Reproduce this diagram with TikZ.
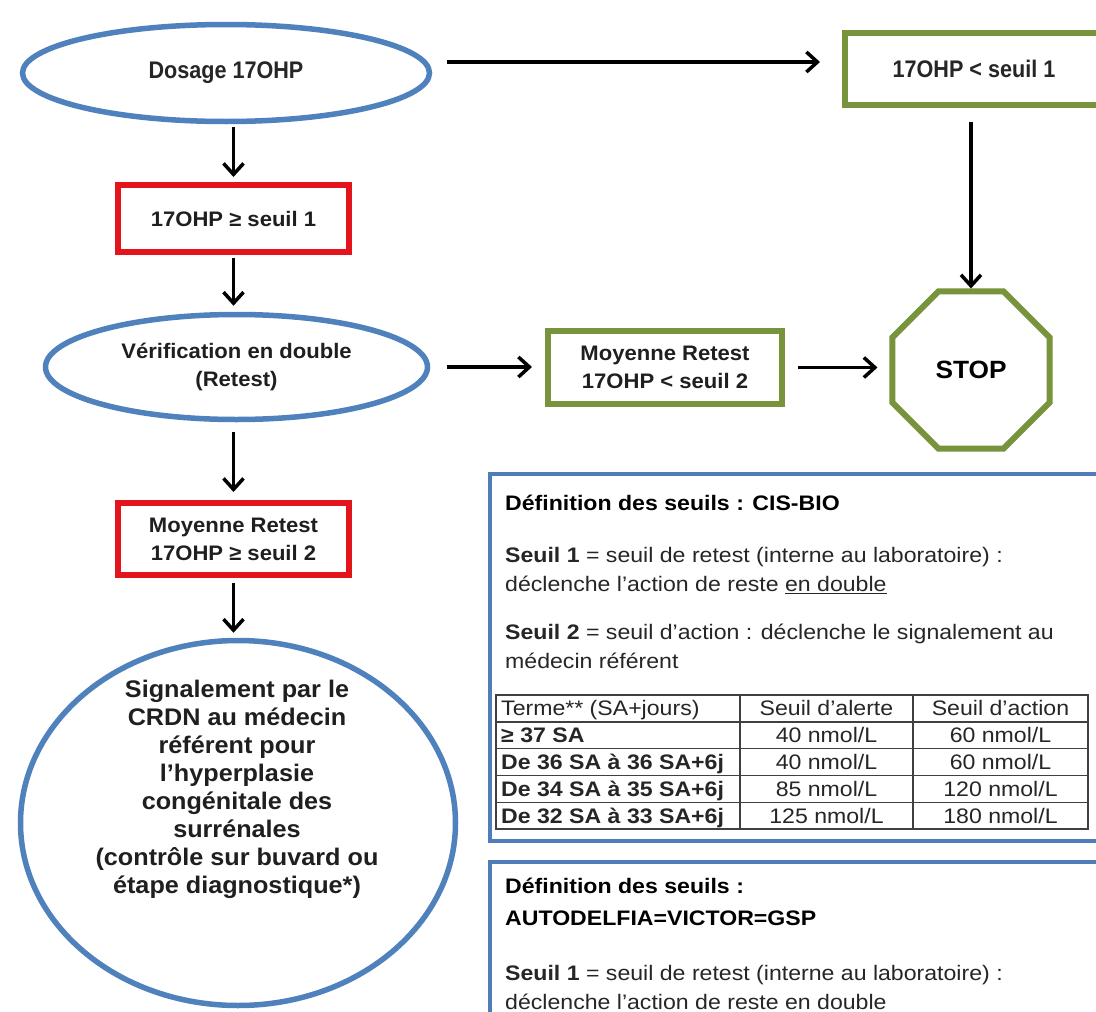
\documentclass[tikz,border=0pt]{standalone}
\usepackage{fontspec}
\setmainfont{Liberation Sans}
\newfontfamily\flowfont{Liberation Sans}[FakeStretch=1.05]
\newfontfamily\headfont{Liberation Sans}[FakeStretch=0.9]
\newfontfamily\notefont{Liberation Sans}[FakeStretch=1.1]
\usetikzlibrary{arrows.meta,shapes.geometric}

\definecolor{ovalblue}{HTML}{4F81BD}
\definecolor{alertred}{HTML}{E3141B}
\definecolor{okgreen}{HTML}{77933C}
\definecolor{frameblue}{HTML}{4F7DBA}

\begin{document}
\begin{tikzpicture}[x=1pt,y=-1pt,
  flowtext/.style={font=\flowfont\bfseries\fontsize{21}{28}\selectfont, text=black!88, align=center},
  bigtext/.style={font=\flowfont\bfseries\fontsize{24}{28}\selectfont, text=black!88, align=center},
  toptext/.style={font=\headfont\bfseries\fontsize{24}{28}\selectfont, text=black!85, align=center},
  oval/.style={ellipse, draw=ovalblue, line width=5.5pt, inner sep=0pt},
  redbox/.style={flowtext, rectangle, draw=alertred, line width=6pt, inner sep=0pt},
  greenbox/.style={rectangle, draw=okgreen, line width=6pt, inner sep=0pt},
  link/.style={line width=3.5pt, -{Straight Barb[length=11pt,width=20pt]}},
  notebox/.style={rectangle, draw=frameblue, line width=4pt, inner sep=0pt},
  notetxt/.style={font=\notefont\fontsize{21}{29}\selectfont, text=black!85, align=left, inner sep=0pt, anchor=west},
  notehead/.style={font=\notefont\bfseries\fontsize{21}{32}\selectfont, text=black, align=left, inner sep=0pt, anchor=west},
  cell/.style={font=\notefont\fontsize{21}{24}\selectfont, text=black!85, inner sep=0pt, text height=18pt, text depth=3pt},
  boldcell/.style={cell, anchor=west, font=\notefont\bfseries\fontsize{21}{24}\selectfont},
  gridline/.style={draw=black!75, line width=1.4pt}
]
\fill[white] (0,0) rectangle (1096,1012);
\clip (0,0) rectangle (1096,1012);

% ---- flow, left column ----
\node[oval, toptext, minimum width=407pt, minimum height=97pt] (dosage) at (226,73) {Dosage 17OHP};
\node[redbox, minimum width=231pt, minimum height=67pt] (high1) at (233.5,218.5) {17OHP ≥ seuil 1};
\node[oval, flowtext, minimum width=382pt, minimum height=105pt] (verif) at (236.5,367) {Vérification en double\\(Retest)};
\node[redbox, minimum width=231pt, minimum height=72pt] (high2) at (233.5,539) {Moyenne Retest\\17OHP ≥ seuil 2};
\node[oval, minimum width=435pt, minimum height=365pt] (signal) at (238,823) {};
\node[bigtext, inner sep=0pt] (signaltxt) at (237,789) {Signalement par le\\CRDN au médecin\\référent pour\\l’hyperplasie\\congénitale des\\surrénales\\(contrôle sur buvard ou\\étape diagnostique*)};

% ---- flow, right side ----
\node[greenbox, toptext, minimum width=258pt, minimum height=72pt] (low1) at (974,69) {17OHP < seuil 1};
\node[greenbox, flowtext, minimum width=234pt, minimum height=73pt] (low2) at (665,367.5) {Moyenne Retest\\17OHP < seuil 2};
\node[regular polygon, regular polygon sides=8, minimum size=170pt, draw=okgreen, line width=6pt,
      font=\flowfont\bfseries\fontsize{25}{28}\selectfont, text=black] (stop) at (971,370) {STOP};

% ---- connectors ----
\draw[link, shorten >=22pt] ([xshift=15pt,yshift=11pt]dosage.east) -- ([yshift=7pt]low1.west);
\draw[link, shorten <=14pt] (stop.north |- low1.south) -- (stop.north);
\draw[link, shorten <=3pt, shorten >=5pt] (high1.north |- dosage.south) -- (high1.north);
\draw[link, shorten <=3pt, shorten >=6pt] (high1.south) -- (high1.south |- verif.north);
\draw[link, shorten <=17pt, shorten >=13pt] (verif.east) -- (verif.east -| low2.west);
\draw[link, shorten <=13pt, shorten >=12pt] (low2.east) -- (low2.east -| stop.west);
\draw[link, shorten <=10pt, shorten >=8pt] (high2.north |- verif.south) -- (high2.north);
\draw[link, shorten <=5pt, shorten >=5pt] (high2.south) -- (high2.south |- signal.north);

% ---- threshold notes: CIS-BIO ----
\node[notebox, minimum width=628pt, minimum height=367pt] (cisbio) at (804,657.5) {};
\node[notehead] (cistitle) at (505,503) {Définition des seuils : CIS-BIO};
\node[notetxt] (cisone) at (505,570.5) {\textbf{Seuil 1} = seuil de retest (interne au laboratoire) :\\déclenche l’action de reste \underline{en double}};
\node[notetxt] (cistwo) at (505,646.5) {\textbf{Seuil 2} = seuil d’action : déclenche le signalement au\\médecin référent};

% table of thresholds
\draw[gridline] (496,695) rectangle (1088,829);
\foreach \yy in {721.8,748.6,775.4,802.2} \draw[gridline] (496,\yy) -- (1088,\yy);
\draw[gridline] (740,695) -- (740,829);
\draw[gridline] (913,695) -- (913,829);

\node[cell, anchor=west] (r0a) at (501,708.4) {Terme** (SA+jours)};
\node[cell] (r0b) at (826.5,708.4) {Seuil d’alerte};
\node[cell] (r0c) at (1000.5,708.4) {Seuil d’action};
\node[boldcell] (r1a) at (501,735.2) {≥ 37 SA};
\node[cell] (r1b) at (826.5,735.2) {40 nmol/L};
\node[cell] (r1c) at (1000.5,735.2) {60 nmol/L};
\node[boldcell] (r2a) at (501,762) {De 36 SA à 36 SA+6j};
\node[cell] (r2b) at (826.5,762) {40 nmol/L};
\node[cell] (r2c) at (1000.5,762) {60 nmol/L};
\node[boldcell] (r3a) at (501,788.8) {De 34 SA à 35 SA+6j};
\node[cell] (r3b) at (826.5,788.8) {85 nmol/L};
\node[cell] (r3c) at (1000.5,788.8) {120 nmol/L};
\node[boldcell] (r4a) at (501,815.6) {De 32 SA à 33 SA+6j};
\node[cell] (r4b) at (826.5,815.6) {125 nmol/L};
\node[cell] (r4c) at (1000.5,815.6) {180 nmol/L};

% ---- threshold notes: AUTODELFIA ----
\node[notebox, minimum width=628pt, minimum height=236pt] (delfia) at (804,980) {};
\node[notehead] (deltitle) at (505,902) {Définition des seuils :\\AUTODELFIA=VICTOR=GSP};
\node[notetxt] (delone) at (505,987) {\textbf{Seuil 1} = seuil de retest (interne au laboratoire) :\\déclenche l’action de reste en double};
\end{tikzpicture}
\end{document}
